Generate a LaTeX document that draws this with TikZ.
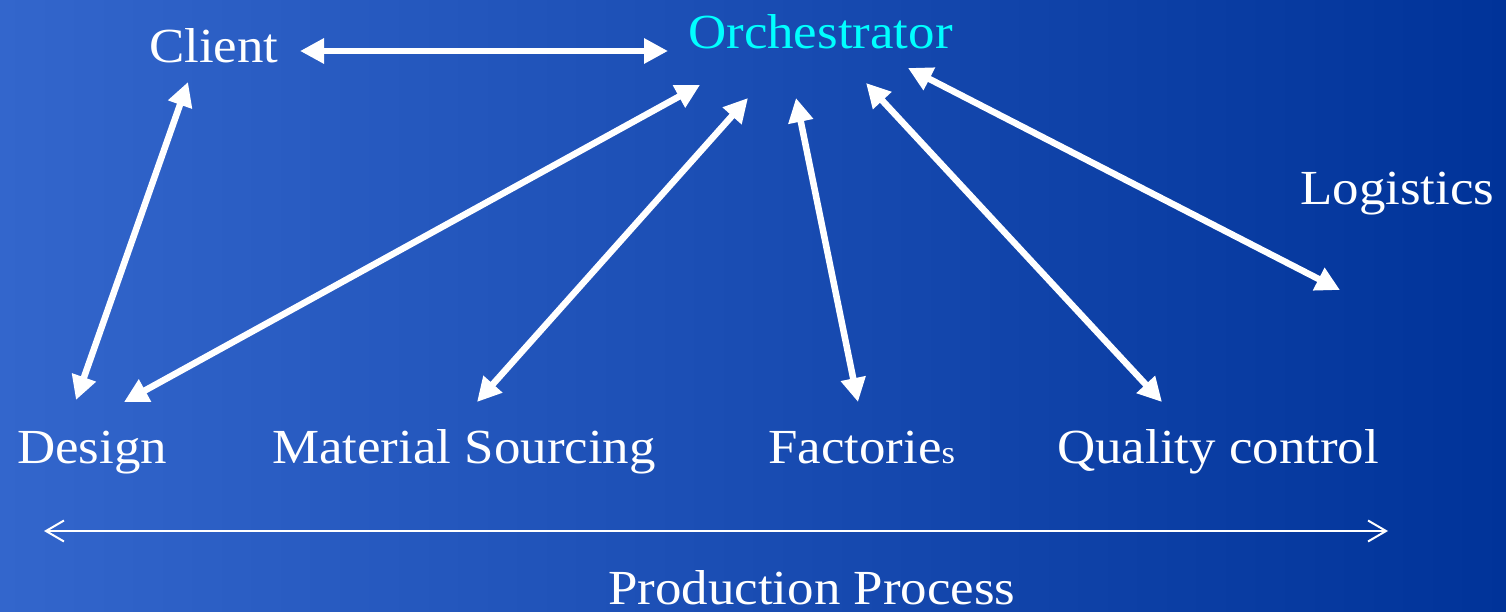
\documentclass[tikz,border=0pt]{standalone}
\usepackage{fontspec}
\setmainfont{Liberation Serif}[FakeStretch=1.08]
\usetikzlibrary{arrows.meta}
\definecolor{bgleft}{RGB}{51,102,204}
\definecolor{bgright}{RGB}{0,51,153}
\definecolor{orchcyan}{RGB}{0,255,255}
\tikzset{
  label/.style={anchor=base west, inner sep=0pt, text=white, font=\fontsize{49}{56}\selectfont},
  link/.style={draw=white, line width=6.5pt,
    {Triangle[length=24pt,width=24pt]}-{Triangle[length=24pt,width=24pt]}},
  span/.style={draw=white, line width=2pt,
    {Straight Barb[length=18pt,width=21pt]}-{Straight Barb[length=18pt,width=21pt]}}
}
\begin{document}
\begin{tikzpicture}[x=1pt,y=-1pt]
  % gradient backdrop
  \shade[left color=bgleft, right color=bgright] (0,0) rectangle (1506,612);
  \useasboundingbox (0,0) rectangle (1506,612);

  % labels
  \node[label] (client) at (149,63) {Client};
  \node[label, text=orchcyan] (orch) at (688,49) {Orchestrator};
  \node[label] (logistics) at (1300,205) {Logistics};
  \node[label] (design) at (17,463) {Design};
  \node[label] (material) at (272,463) {Material Sourcing};
  \node[label] (factories) at (768,463) {Factorie{\fontsize{32}{36}\selectfont s}};
  \node[label] (quality) at (1057,463) {Quality control};
  \node[label] (production) at (608,604) {Production Process};

  % arrow end points
  \coordinate (c1) at (300,51);   \coordinate (o1) at (668,51);
  \coordinate (c2) at (188,82);   \coordinate (d1) at (76,400);
  \coordinate (o2) at (700,85);   \coordinate (d2) at (124,402);
  \coordinate (o3) at (748,98);   \coordinate (m1) at (477,402);
  \coordinate (o4) at (796,98);   \coordinate (f1) at (858,402);
  \coordinate (o5) at (866,83);   \coordinate (q1) at (1162,402);
  \coordinate (o6) at (908,68);   \coordinate (l1) at (1340,290);
  \coordinate (p1) at (44,531);   \coordinate (p2) at (1388,531);

  % connectors
  \draw[link] (c1) -- (o1);
  \draw[link] (c2) -- (d1);
  \draw[link] (o2) -- (d2);
  \draw[link] (o3) -- (m1);
  \draw[link] (o4) -- (f1);
  \draw[link] (o5) -- (q1);
  \draw[link] (o6) -- (l1);
  \draw[span] (p1) -- (p2);
\end{tikzpicture}
\end{document}
